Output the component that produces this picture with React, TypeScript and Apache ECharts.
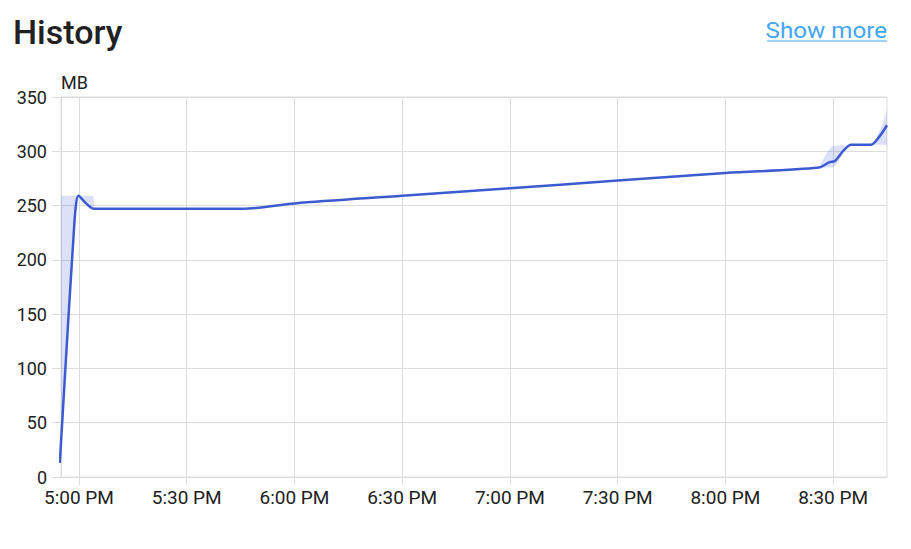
import React, { useEffect, useRef } from "react";
import * as echarts from "echarts";

// ---- data ----
const axisStart = "16:55:00";
const axisEnd = "20:45:00";
const xTickTimes = ["17:00", "17:30", "18:00", "18:30", "19:00", "19:30", "20:00", "20:30"];

const lineTimes = [
  "16:54:40", "16:57:00", "16:58:30", "16:59:05", "16:59:50", "17:01:58", "17:04:15",
  "17:45:40", "18:00:00", "18:30:00", "19:00:00", "19:30:00", "20:00:00",
  "20:26:00", "20:29:00", "20:30:30", "20:33:00", "20:35:00", "20:40:30", "20:42:45", "20:45:00",
];
const lineValues = [
  13, 143, 222, 248, 259, 252, 247,
  247, 252, 259, 266, 273, 280,
  285, 290, 291, 301, 306, 306, 313, 324,
];

const bandATimes = ["16:55:00", "16:57:00", "16:58:30", "16:59:05", "16:59:50", "17:01:58", "17:03:50", "17:04:15"];
const bandALow = [32, 143, 222, 248, 259, 252, 247.5, 247];
const bandAHigh = [259, 259, 259, 259, 259, 259, 259, 247];

const bandBTimes = ["20:26:00", "20:28:00", "20:29:30", "20:31:00", "20:33:00", "20:35:00"];
const bandBLow = [285, 285, 285, 288, 300, 306];
const bandBHigh = [285, 297, 304, 305, 305.5, 306];

const bandCTimes = ["20:40:30", "20:42:00", "20:42:45", "20:43:45", "20:45:00"];
const bandCLow = [306, 306, 306, 306, 306];
const bandCHigh = [306, 312, 318, 325, 338];

const yMin = 0;
const yMax = 350;
const yStep = 50;

// ---- helpers ----
function toTs(t: string): number {
  const [h, m, s] = t.split(":").map(Number);
  return new Date(2024, 0, 15, h, m, s || 0).getTime();
}
function fmtTime(v: number): string {
  const d = new Date(v);
  const h = d.getHours();
  const hh = h % 12 === 0 ? 12 : h % 12;
  const mm = String(d.getMinutes()).padStart(2, "0");
  return `${hh}:${mm} ${h < 12 ? "AM" : "PM"}`;
}

const LINE_COLOR = "#3d5bd0";
const BAND_COLOR = "rgba(61,91,208,0.18)";
const GRID_COLOR = "#dcdcdc";
const TEXT_COLOR = "#212121";
const LINK_COLOR = "#42a5f5";
const FONT = "Roboto";

function bandSeries(id: string, times: string[], low: number[], high: number[]) {
  return [
    {
      type: "line",
      name: id + "-low",
      stack: id,
      xAxisIndex: 0,
      data: times.map((t, i) => [toTs(t), low[i]]),
      smooth: 0.3,
      symbol: "none",
      lineStyle: { opacity: 0 },
      silent: true,
      z: 1,
    },
    {
      type: "line",
      name: id + "-range",
      stack: id,
      xAxisIndex: 0,
      data: times.map((t, i) => [toTs(t), high[i] - low[i]]),
      smooth: 0.3,
      symbol: "none",
      lineStyle: { opacity: 0 },
      areaStyle: { color: BAND_COLOR, opacity: 1 },
      silent: true,
      z: 1,
    },
  ];
}

export default function App() {
  const ref = useRef<HTMLDivElement>(null);
  useEffect(() => {
    if (!ref.current) return;
    const chart = echarts.init(ref.current, undefined, { renderer: "svg" });
    const tickValues = xTickTimes.map(toTs);
    const option = {
      animation: false,
      textStyle: { fontFamily: FONT },
      grid: {
        left: 61,
        right: 24,
        top: 97,
        bottom: 72,
        show: true,
        borderColor: GRID_COLOR,
        borderWidth: 1,
        backgroundColor: "transparent",
      },
      graphic: [
        {
          type: "text",
          x: 13,
          y: 32,
          style: {
            text: "History",
            x: 0,
            y: 0,
            font: `500 34px ${FONT}`,
            fill: TEXT_COLOR,
            verticalAlign: "middle",
          },
        },
        {
          type: "text",
          x: 887,
          y: 31,
          scaleX: 1.1,
          style: {
            text: "Show more",
            x: 0,
            y: 0,
            align: "right",
            verticalAlign: "middle",
            font: `400 22px ${FONT}`,
            fill: LINK_COLOR,
          },
        },
        {
          type: "line",
          shape: { x1: 767, y1: 41, x2: 887, y2: 41 },
          style: { stroke: LINK_COLOR, lineWidth: 1.2 },
        },
      ],
      xAxis: [
        {
          // data axis (time scale), hidden
          type: "time",
          min: toTs(axisStart),
          max: toTs(axisEnd),
          show: false,
        },
        {
          // visible axis with 30-minute ticks
          type: "value",
          position: "bottom",
          min: toTs(axisStart),
          max: toTs(axisEnd),
          axisLine: { show: true, lineStyle: { color: GRID_COLOR } },
          axisTick: { show: true, length: 8, lineStyle: { color: GRID_COLOR }, customValues: tickValues },
          splitLine: { show: true, lineStyle: { color: GRID_COLOR } },
          axisLabel: {
            customValues: tickValues,
            formatter: (v: number) => fmtTime(v),
            color: TEXT_COLOR,
            fontSize: 19,
            margin: 11,
            fontFamily: FONT,
          },
        },
      ],
      yAxis: {
        type: "value",
        min: yMin,
        max: yMax,
        interval: yStep,
        name: "MB",
        nameLocation: "end",
        nameGap: 15,
        nameTextStyle: {
          align: "left",
          verticalAlign: "middle",
          fontSize: 18,
          color: TEXT_COLOR,
          fontFamily: FONT,
        },
        axisLine: { show: true, lineStyle: { color: GRID_COLOR } },
        axisTick: { show: true, length: 9, lineStyle: { color: GRID_COLOR } },
        splitLine: { show: true, lineStyle: { color: GRID_COLOR } },
        axisLabel: {
          color: TEXT_COLOR,
          fontSize: 18,
          margin: 14,
          fontFamily: FONT,
        },
      },
      series: [
        ...bandSeries("A", bandATimes, bandALow, bandAHigh),
        ...bandSeries("B", bandBTimes, bandBLow, bandBHigh),
        ...bandSeries("C", bandCTimes, bandCLow, bandCHigh),
        {
          type: "line",
          name: "memory",
          xAxisIndex: 0,
          data: lineTimes.map((t, i) => [toTs(t), lineValues[i]]),
          smooth: 0.3,
          symbol: "none",
          clip: false,
          lineStyle: { color: LINE_COLOR, width: 2.5 },
          z: 3,
        },
      ],
    };
    chart.setOption(option as any);
    return () => chart.dispose();
  }, []);
  return (
    <div
      ref={ref}
      style={{ position: "fixed", left: 0, top: 0, width: 911, height: 549, background: "#fff" }}
    />
  );
}
